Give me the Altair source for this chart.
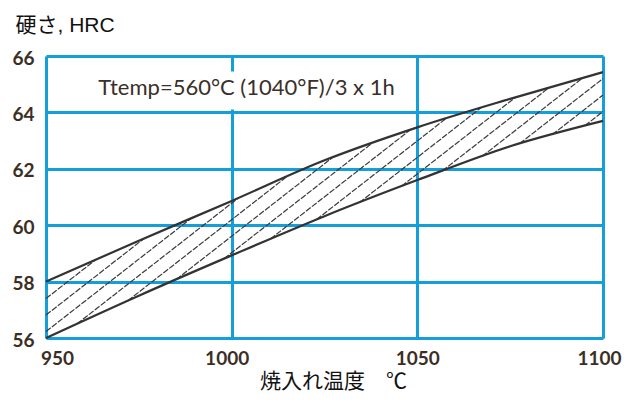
import altair as alt
import numpy as np
import pandas as pd

# ---- data ----
temps = [950, 975, 1000, 1025, 1050, 1075, 1100]
lower_hrc = [56.0, 57.5, 58.93, 60.32, 61.6, 62.8, 63.7]
upper_hrc = [58.0, 59.45, 60.86, 62.3, 63.47, 64.48, 65.43]
x_ticks = [950, 1000, 1050, 1100]
y_ticks = [56, 58, 60, 62, 64, 66]
note_text = ["Ttemp=560°C (1040°F)/3 x 1h"]
note_x = [1004]
note_y = [64.85]
x_title = "焼入れ温度　℃"
y_title = "硬さ, HRC"

# ---- styling ----
W, H = 557, 282
BLUE = "#149fdb"
LABEL_COLOR = "#3b2e25"
CURVE_COLOR = "#333333"

# ---- curves (long format) ----
curves = pd.concat([
    pd.DataFrame({"x": temps, "y": lower_hrc, "s": "lower"}),
    pd.DataFrame({"x": temps, "y": upper_hrc, "s": "upper"}),
])

# ---- hatch lines clipped to the band ----
slope = 0.78 * (W / 150) / (H / 10)         # hatch slope in data units
step = 16.5 / (H / 10)                      # vertical spacing in HRC
xs = np.linspace(950, 1100, 3001)
lo = np.interp(xs, temps, lower_hrc)
up = np.interp(xs, temps, upper_hrc)
rows = []
c = 57.4
c_min = lower_hrc[-1] - slope * 150
while c > c_min:
    yl = c + slope * (xs - 950)
    m = (yl >= lo - 1e-9) & (yl <= up + 1e-9)
    idx = np.where(m)[0]
    if len(idx) > 1:
        i0, i1 = idx[0], idx[-1]
        rows.append({"x": xs[i0], "y": yl[i0], "x2": xs[i1], "y2": yl[i1]})
    c -= step
hatch = pd.DataFrame(rows)

xscale = alt.Scale(domain=[950, 1100], nice=False, zero=False)
yscale = alt.Scale(domain=[56, 66], nice=False, zero=False)

xaxis = alt.Axis(
    values=x_ticks, format="d", title=x_title, grid=True, gridColor=BLUE, gridWidth=3,
    domain=False, ticks=False, labelFont="Lato", labelFontSize=19,
    labelFontWeight="bold", labelColor=LABEL_COLOR, labelPadding=11,
    labelFlush=False, labelOverlap=False,
    labelOffset={"condition": [{"test": "datum.value == 950", "value": 11},
                               {"test": "datum.value == 1000", "value": -5},
                               {"test": "datum.value == 1100", "value": -4}],
                 "value": 0},
    titleFont="Noto Sans CJK JP", titleFontSize=21,
    titleFontWeight="normal", titleColor="#111111",
    titleX=287, titleY=43, titleBaseline="middle", titleAlign="center",
)
yaxis = alt.Axis(
    values=y_ticks, title=y_title, grid=True, gridColor=BLUE, gridWidth=3,
    domain=False, ticks=False, labelFont="Lato", labelFontSize=19,
    labelFontWeight="bold", labelColor=LABEL_COLOR, labelPadding=12,
    labelOffset=2,
    titleFont="Liberation Sans, Noto Sans CJK JP", titleFontSize=21,
    titleFontWeight="normal", titleColor="#111111", titleAngle=0,
    titleAlign="left", titleBaseline="middle", titleX=-31, titleY=-31,
)

X = alt.X("x:Q", scale=xscale, axis=xaxis)
Y = alt.Y("y:Q", scale=yscale, axis=yaxis)

mask = alt.Chart(pd.DataFrame({"x": [996], "x2": [1004], "y": [64.1], "y2": [65.45]})).mark_rect(
    color="white").encode(x=X, x2="x2:Q", y=Y, y2="y2:Q")

note = alt.Chart(pd.DataFrame({"x": note_x, "y": note_y, "t": note_text})).mark_text(
    font="Lato", fontSize=22, color="#3a2f2a", align="center", baseline="middle"
).encode(x=X, y=Y, text="t:N")

hatch_layer = alt.Chart(hatch).mark_rule(
    color="#3a3a3a", strokeWidth=1.2, strokeDash=[6, 1.5]
).encode(x=X, y=Y, x2="x2:Q", y2="y2:Q")

curve_layer = alt.Chart(curves).mark_line(
    color=CURVE_COLOR, strokeWidth=2.2, interpolate="monotone"
).encode(x=X, y=Y, detail="s:N")

chart = alt.layer(mask, note, hatch_layer, curve_layer).properties(
    width=W, height=H,
    autosize=alt.AutoSizeParams(type="none"),
    padding={"left": 38, "top": 48, "right": 27, "bottom": 57},
).configure_view(stroke=BLUE, strokeWidth=3).configure(background="white")

chart.save("out.html", embed_options={"renderer": "svg", "actions": False})
